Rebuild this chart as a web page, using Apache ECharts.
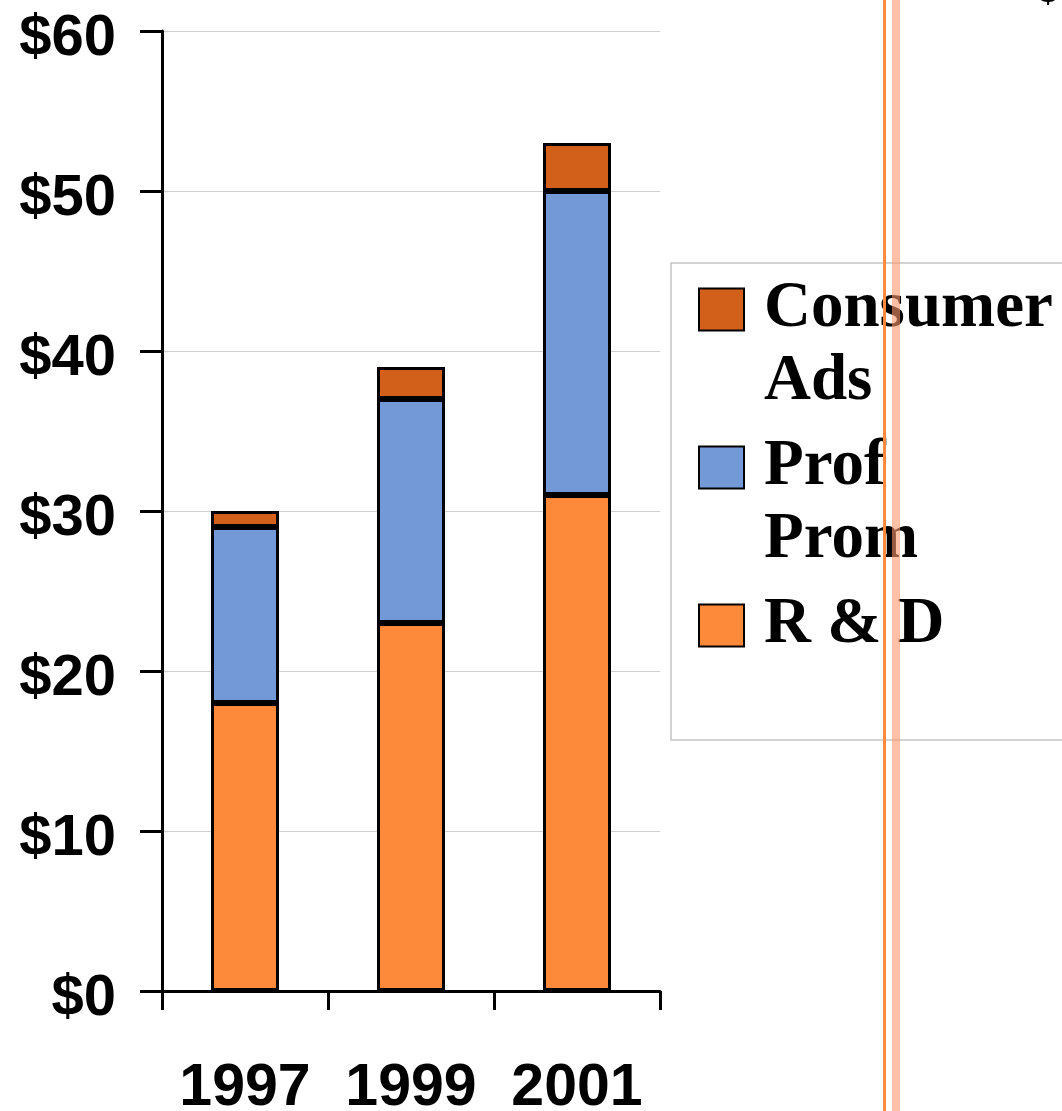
<!DOCTYPE html>
<html>
<head>
<meta charset="utf-8">
<title>Spending</title>
<script src="https://cdn.jsdelivr.net/npm/echarts@6/dist/echarts.min.js"></script>
<style>
  html, body { margin: 0; padding: 0; background: #fff; }
  #chart { width: 1062px; height: 1111px; }
</style>
</head>
<body>
<div id="chart"></div>
<script>
// values ($)
var years = ['1997', '1999', '2001']
var rnd = [18, 23, 31]
var profProm = [11, 14, 19]
var consumerAds = [1, 2, 3]
var yTicks = { min: 0, max: 60, interval: 10 }

var legendNames = {
  'Consumer Ads': '\nConsumer\nAds',
  'Prof Prom': '\nProf\nProm',
  'R & D': '\nR & D\n'
}

var chart = echarts.init(document.getElementById('chart'))

function barSeries(name, color, data) {
  return {
    name: name,
    type: 'bar',
    stack: 'total',
    barWidth: 68,
    data: data,
    itemStyle: { color: color, borderColor: '#000', borderWidth: 3 }
  }
}

chart.setOption({
  animation: false,
  grid: { left: 162, right: 402, top: 31, bottom: 120, outerBoundsMode: 'none', containLabel: false },
  xAxis: {
    type: 'category',
    data: years,
    axisLine: { lineStyle: { color: '#000', width: 3 } },
    axisTick: { show: true, interval: 0, length: 19, lineStyle: { color: '#000', width: 3 } },
    axisLabel: {
      interval: 0,
      hideOverlap: false,
      color: '#000',
      fontFamily: 'Liberation Sans, Arial, sans-serif',
      fontWeight: 'bold',
      fontSize: 59,
      margin: 68
    }
  },
  yAxis: {
    type: 'value',
    min: yTicks.min,
    max: yTicks.max,
    interval: yTicks.interval,
    axisLine: { show: true, lineStyle: { color: '#000', width: 3 } },
    axisTick: { show: true, length: 22, lineStyle: { color: '#000', width: 3 } },
    splitLine: { lineStyle: { color: '#d0d0d0', width: 1 } },
    axisLabel: {
      margin: 46,
      formatter: function (v) { return '{a|$' + v + '}' },
      rich: {
        a: {
          color: '#000',
          fontFamily: 'Liberation Sans, Arial, sans-serif',
          fontWeight: 'bold',
          fontSize: 58,
          padding: [16, 0, 0, 0]
        }
      }
    }
  },
  legend: {
    orient: 'vertical',
    left: 698,
    top: 200,
    padding: 0,
    itemGap: -61,
    itemWidth: 45,
    itemHeight: 42,
    icon: 'rect',
    data: ['Consumer Ads', 'Prof Prom', 'R & D'],
    itemStyle: { borderColor: '#000', borderWidth: 2 },
    formatter: function (n) { return legendNames[n] },
    textStyle: {
      color: '#000',
      fontFamily: 'Liberation Serif, Times New Roman, serif',
      fontWeight: 'bold',
      fontSize: 65,
      lineHeight: 73,
      padding: [0, 0, 0, 15]
    }
  },
  graphic: [
    {
      type: 'rect', z: -1,
      shape: { x: 671, y: 263, width: 420, height: 477 },
      style: { fill: '#fff', stroke: '#c4c4c4', lineWidth: 1.5 }
    },
    {
      type: 'rect', z: 100,
      shape: { x: 883, y: 0, width: 3, height: 1111 },
      style: { fill: '#ff8a3d' }
    },
    {
      type: 'rect', z: 100,
      shape: { x: 892, y: 0, width: 8, height: 1111 },
      style: { fill: 'rgba(255,150,110,0.6)' }
    },
    {
      type: 'text', z: 100,
      style: {
        x: 1048, y: 10, text: '$', align: 'center', verticalAlign: 'bottom',
        fill: '#000', fontSize: 34, fontFamily: 'Liberation Sans, Arial, sans-serif'
      }
    }
  ],
  series: [
    barSeries('R & D', '#fd8a3b', rnd),
    barSeries('Prof Prom', '#7399d7', profProm),
    barSeries('Consumer Ads', '#d2601b', consumerAds)
  ]
})
</script>
</body>
</html>
